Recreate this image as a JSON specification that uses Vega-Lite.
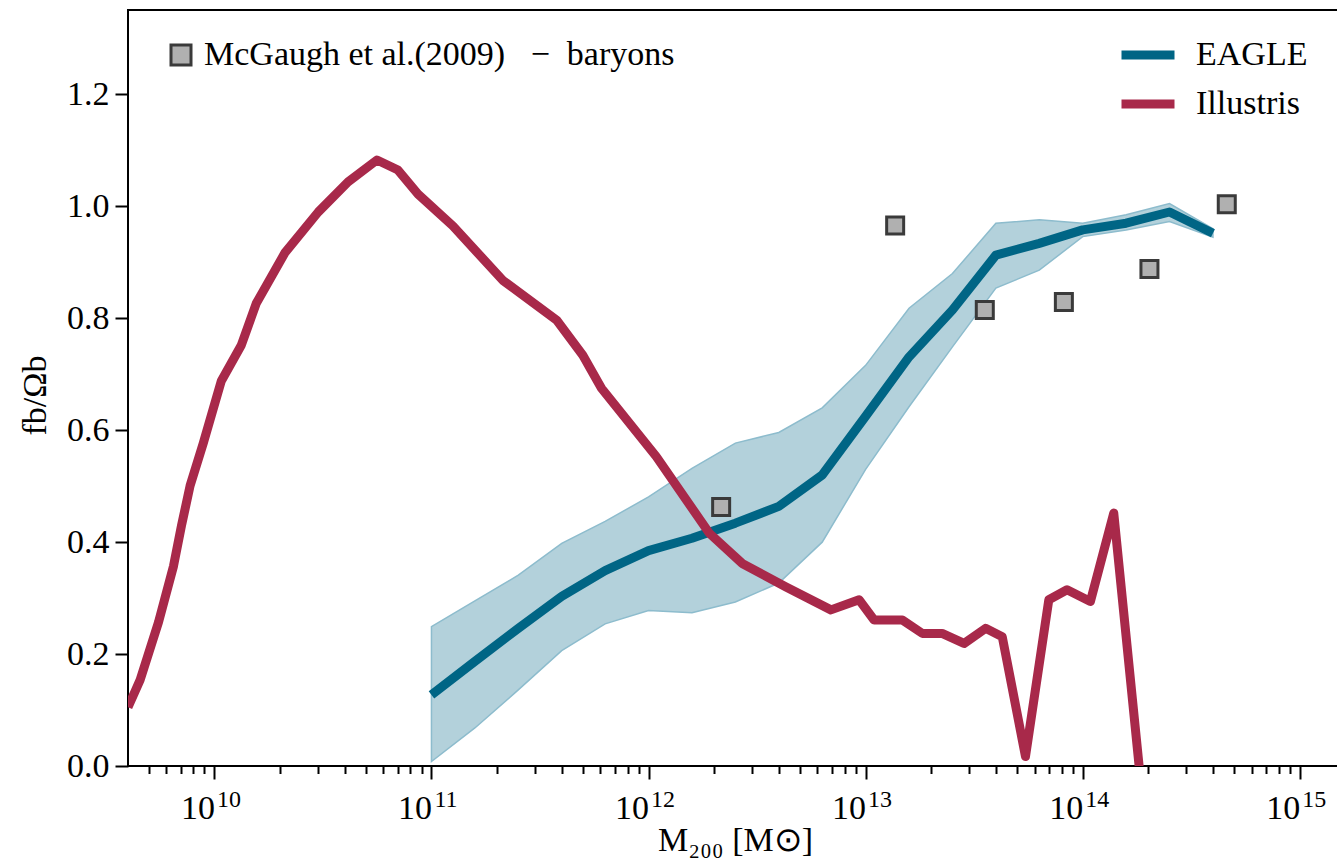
{
  "$schema": "https://vega.github.io/schema/vega-lite/v6.json",
  "width": 1210,
  "height": 756,
  "autosize": {"type": "none"},
  "padding": {"left": 128, "top": 10, "right": 0, "bottom": 94},
  "background": "white",
  "config": {
    "view": {"stroke": "black", "strokeWidth": 2},
    "font": "Liberation Serif",
    "axis": {
      "domain": false,
      "tickColor": "black",
      "tickWidth": 2,
      "labelColor": "black",
      "labelFont": "Liberation Serif",
      "labelFontSize": 34,
      "titleFont": "Liberation Serif",
      "titleFontSize": 34,
      "titleFontWeight": "normal",
      "titleColor": "black",
      "grid": false,
      "labelOverlap": false,
      "labelBound": false,
      "labelFlush": false
    },
    "legend": {
      "labelFont": "Liberation Serif",
      "labelFontSize": 34,
      "labelColor": "black",
      "labelLimit": 0,
      "padding": 0
    }
  },
  "datasets": {
    "eagle": [
      {"M": 1e11, "f": 0.127, "hi": 0.249, "lo": 0.008},
      {"M": 1.585e11, "f": 0.187, "hi": 0.295, "lo": 0.068},
      {"M": 2.512e11, "f": 0.246, "hi": 0.341, "lo": 0.136},
      {"M": 3.981e11, "f": 0.303, "hi": 0.398, "lo": 0.206},
      {"M": 6.31e11, "f": 0.349, "hi": 0.437, "lo": 0.254},
      {"M": 1e12, "f": 0.385, "hi": 0.481, "lo": 0.278},
      {"M": 1.585e12, "f": 0.407, "hi": 0.532, "lo": 0.274},
      {"M": 2.512e12, "f": 0.434, "hi": 0.577, "lo": 0.293},
      {"M": 3.981e12, "f": 0.464, "hi": 0.596, "lo": 0.327},
      {"M": 6.31e12, "f": 0.52, "hi": 0.64, "lo": 0.4},
      {"M": 1e13, "f": 0.625, "hi": 0.716, "lo": 0.53},
      {"M": 1.585e13, "f": 0.731, "hi": 0.818, "lo": 0.642},
      {"M": 2.512e13, "f": 0.815, "hi": 0.88, "lo": 0.749},
      {"M": 3.981e13, "f": 0.913, "hi": 0.97, "lo": 0.854},
      {"M": 6.31e13, "f": 0.934, "hi": 0.976, "lo": 0.886},
      {"M": 1e14, "f": 0.958, "hi": 0.97, "lo": 0.946},
      {"M": 1.585e14, "f": 0.97, "hi": 0.985, "lo": 0.958},
      {"M": 2.512e14, "f": 0.99, "hi": 1.005, "lo": 0.973},
      {"M": 3.981e14, "f": 0.952, "hi": 0.96, "lo": 0.945}
    ],
    "lines": [
      {"model": "EAGLE", "M": 1e11, "f": 0.127},
      {"model": "EAGLE", "M": 1.585e11, "f": 0.187},
      {"model": "EAGLE", "M": 2.512e11, "f": 0.246},
      {"model": "EAGLE", "M": 3.981e11, "f": 0.303},
      {"model": "EAGLE", "M": 6.31e11, "f": 0.349},
      {"model": "EAGLE", "M": 1e12, "f": 0.385},
      {"model": "EAGLE", "M": 1.585e12, "f": 0.407},
      {"model": "EAGLE", "M": 2.512e12, "f": 0.434},
      {"model": "EAGLE", "M": 3.981e12, "f": 0.464},
      {"model": "EAGLE", "M": 6.31e12, "f": 0.52},
      {"model": "EAGLE", "M": 1e13, "f": 0.625},
      {"model": "EAGLE", "M": 1.585e13, "f": 0.731},
      {"model": "EAGLE", "M": 2.512e13, "f": 0.815},
      {"model": "EAGLE", "M": 3.981e13, "f": 0.913},
      {"model": "EAGLE", "M": 6.31e13, "f": 0.934},
      {"model": "EAGLE", "M": 1e14, "f": 0.958},
      {"model": "EAGLE", "M": 1.585e14, "f": 0.97},
      {"model": "EAGLE", "M": 2.512e14, "f": 0.99},
      {"model": "EAGLE", "M": 3.981e14, "f": 0.952},
      {"model": "Illustris", "M": 4.0e9, "f": 0.105},
      {"model": "Illustris", "M": 4.55e9, "f": 0.154},
      {"model": "Illustris", "M": 5.53e9, "f": 0.257},
      {"model": "Illustris", "M": 6.48e9, "f": 0.357},
      {"model": "Illustris", "M": 7.05e9, "f": 0.429},
      {"model": "Illustris", "M": 7.73e9, "f": 0.501},
      {"model": "Illustris", "M": 8.89e9, "f": 0.577},
      {"model": "Illustris", "M": 1.076e10, "f": 0.688},
      {"model": "Illustris", "M": 1.33e10, "f": 0.752},
      {"model": "Illustris", "M": 1.56e10, "f": 0.827},
      {"model": "Illustris", "M": 2.12e10, "f": 0.918},
      {"model": "Illustris", "M": 3.01e10, "f": 0.99},
      {"model": "Illustris", "M": 4.13e10, "f": 1.044},
      {"model": "Illustris", "M": 5.61e10, "f": 1.083},
      {"model": "Illustris", "M": 7.01e10, "f": 1.065},
      {"model": "Illustris", "M": 8.67e10, "f": 1.022},
      {"model": "Illustris", "M": 1.256e11, "f": 0.965},
      {"model": "Illustris", "M": 2.13e11, "f": 0.868},
      {"model": "Illustris", "M": 3.77e11, "f": 0.797},
      {"model": "Illustris", "M": 4.98e11, "f": 0.734},
      {"model": "Illustris", "M": 6.07e11, "f": 0.675},
      {"model": "Illustris", "M": 1.085e12, "f": 0.553},
      {"model": "Illustris", "M": 1.906e12, "f": 0.416},
      {"model": "Illustris", "M": 2.7e12, "f": 0.362},
      {"model": "Illustris", "M": 4.3e12, "f": 0.32},
      {"model": "Illustris", "M": 6.92e12, "f": 0.279},
      {"model": "Illustris", "M": 9.33e12, "f": 0.297},
      {"model": "Illustris", "M": 1.094e13, "f": 0.261},
      {"model": "Illustris", "M": 1.476e13, "f": 0.261},
      {"model": "Illustris", "M": 1.824e13, "f": 0.237},
      {"model": "Illustris", "M": 2.25e13, "f": 0.237},
      {"model": "Illustris", "M": 2.84e13, "f": 0.219},
      {"model": "Illustris", "M": 3.57e13, "f": 0.246},
      {"model": "Illustris", "M": 4.26e13, "f": 0.231},
      {"model": "Illustris", "M": 5.45e13, "f": 0.017},
      {"model": "Illustris", "M": 6.98e13, "f": 0.297},
      {"model": "Illustris", "M": 8.47e13, "f": 0.315},
      {"model": "Illustris", "M": 1.085e14, "f": 0.294},
      {"model": "Illustris", "M": 1.39e14, "f": 0.452},
      {"model": "Illustris", "M": 1.83e14, "f": -0.01}
    ],
    "mcgaugh": [
      {"src": "McGaugh et al.(2009)\u00a0\u00a0\u00a0\u2212\u00a0\u00a0baryons", "M": 2.16e12, "f": 0.463},
      {"src": "McGaugh et al.(2009)\u00a0\u00a0\u00a0\u2212\u00a0\u00a0baryons", "M": 1.368e13, "f": 0.966},
      {"src": "McGaugh et al.(2009)\u00a0\u00a0\u00a0\u2212\u00a0\u00a0baryons", "M": 3.54e13, "f": 0.815},
      {"src": "McGaugh et al.(2009)\u00a0\u00a0\u00a0\u2212\u00a0\u00a0baryons", "M": 8.19e13, "f": 0.829},
      {"src": "McGaugh et al.(2009)\u00a0\u00a0\u00a0\u2212\u00a0\u00a0baryons", "M": 2.03e14, "f": 0.888},
      {"src": "McGaugh et al.(2009)\u00a0\u00a0\u00a0\u2212\u00a0\u00a0baryons", "M": 4.61e14, "f": 1.004}
    ]
  },
  "resolve": {"axis": {"x": "independent"}},
  "layer": [
    {
      "data": {"name": "eagle"},
      "mark": {"type": "area", "fill": "#b3d1db", "stroke": "#8dbccd", "strokeWidth": 1.5, "fillOpacity": 1, "clip": true},
      "encoding": {
        "x": {
          "field": "M", "type": "quantitative",
          "scale": {"type": "log", "domain": [4e9, 1.5e15], "nice": false},
          "axis": {
            "orient": "bottom",
            "values": [1e10, 1e11, 1e12, 1e13, 1e14, 1e15],
            "tickSize": 13,
            "labelExpr": "'10'",
            "labelBaseline": "alphabetic",
            "labelPadding": 39,
            "labelOffset": -17,
            "title": "M\u2082\u2080\u2080 [M\u2299]",
            "titleX": 607,
            "titleY": 84,
            "titleBaseline": "alphabetic",
            "titleAlign": "center"
          }
        },
        "y": {
          "field": "hi", "type": "quantitative",
          "scale": {"domain": [0, 1.351], "nice": false, "zero": false},
          "axis": {
            "values": [0, 0.2, 0.4, 0.6, 0.8, 1.0, 1.2],
            "format": ".1f",
            "tickSize": 13,
            "labelPadding": 6,
            "title": "fb/\u03a9b",
            "titleAngle": -90,
            "titleX": -83,
            "titleY": 385,
            "titleBaseline": "alphabetic",
            "titleAlign": "center"
          }
        },
        "y2": {"field": "lo"}
      }
    },
    {
      "data": {"name": "lines"},
      "mark": {"type": "line", "strokeWidth": 9, "strokeJoin": "round", "strokeCap": "butt", "clip": true},
      "encoding": {
        "x": {
          "field": "M", "type": "quantitative",
          "scale": {"type": "log", "domain": [4e9, 1.5e15], "nice": false},
          "axis": {
            "orient": "bottom",
            "values": [5e9, 6e9, 7e9, 8e9, 9e9, 2e10, 3e10, 4e10, 5e10, 6e10, 7e10, 8e10, 9e10, 2e11, 3e11, 4e11, 5e11, 6e11, 7e11, 8e11, 9e11, 2e12, 3e12, 4e12, 5e12, 6e12, 7e12, 8e12, 9e12, 2e13, 3e13, 4e13, 5e13, 6e13, 7e13, 8e13, 9e13, 2e14, 3e14, 4e14, 5e14, 6e14, 7e14, 8e14, 9e14],
            "tickSize": 7.5,
            "labels": false,
            "title": null
          }
        },
        "y": {
          "field": "f", "type": "quantitative",
          "scale": {"domain": [0, 1.351], "nice": false, "zero": false},
          "axis": {
            "values": [0, 0.2, 0.4, 0.6, 0.8, 1.0, 1.2],
            "format": ".1f",
            "tickSize": 13,
            "labelPadding": 6,
            "title": "fb/\u03a9b",
            "titleAngle": -90,
            "titleX": -83,
            "titleY": 385,
            "titleBaseline": "alphabetic",
            "titleAlign": "center"
          }
        },
        "stroke": {
          "field": "model", "type": "nominal",
          "scale": {"domain": ["EAGLE", "Illustris"], "range": ["#006585", "#a8294a"]},
          "legend": {
            "title": null,
            "orient": "none",
            "legendX": 989,
            "legendY": 14,
            "symbolType": "stroke",
            "symbolSize": 2809,
            "symbolStrokeWidth": 9,
            "rowPadding": -12,
            "labelOffset": 17
          }
        }
      }
    },
    {
      "data": {"name": "mcgaugh"},
      "mark": {"type": "square", "size": 289, "stroke": "#3a3a3a", "strokeWidth": 3, "opacity": 1, "fillOpacity": 1},
      "encoding": {
        "x": {
          "field": "M", "type": "quantitative",
          "scale": {"type": "log", "domain": [4e9, 1.5e15], "nice": false},
          "axis": {
            "orient": "bottom",
            "values": [1e10, 1e11, 1e12, 1e13, 1e14, 1e15],
            "tickSize": 0,
            "tickOpacity": 0,
            "labelExpr": "format(round(log(datum.value)/LN10), 'd')",
            "labelFontSize": 24,
            "labelBaseline": "alphabetic",
            "labelPadding": 40,
            "labelOffset": 14,
            "title": null
          }
        },
        "y": {
          "field": "f", "type": "quantitative",
          "scale": {"domain": [0, 1.351], "nice": false, "zero": false},
          "axis": {
            "values": [0, 0.2, 0.4, 0.6, 0.8, 1.0, 1.2],
            "format": ".1f",
            "tickSize": 13,
            "labelPadding": 6,
            "title": "fb/\u03a9b",
            "titleAngle": -90,
            "titleX": -83,
            "titleY": 385,
            "titleBaseline": "alphabetic",
            "titleAlign": "center"
          }
        },
        "fill": {
          "field": "src", "type": "nominal",
          "scale": {"range": ["#b0b0b0"]},
          "legend": {
            "title": null,
            "orient": "none",
            "legendX": 36,
            "legendY": 28,
            "symbolType": "square",
            "symbolSize": 400,
            "symbolStrokeColor": "#3a3a3a",
            "symbolStrokeWidth": 3,
            "symbolOpacity": 1,
            "labelOffset": 6
          }
        }
      }
    }
  ]
}
